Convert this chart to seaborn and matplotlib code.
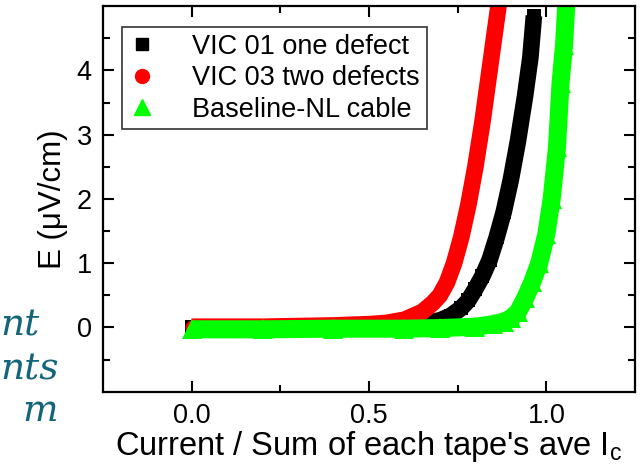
import numpy as np
import pandas as pd
import matplotlib
matplotlib.use("Agg")
import matplotlib.pyplot as plt
import seaborn as sns
from matplotlib.ticker import FixedLocator
from matplotlib.lines import Line2D

# ---- data ----
black_x = [0.0, 0.2, 0.4, 0.5, 0.6, 0.65, 0.7, 0.73, 0.76, 0.78, 0.80, 0.82, 0.84, 0.86, 0.88, 0.90, 0.92, 0.94, 0.955, 0.965]
black_y = [0.0, 0.0, 0.01, 0.02, 0.04, 0.06, 0.11, 0.18, 0.3, 0.42, 0.6, 0.8, 1.05, 1.4, 1.8, 2.3, 2.9, 3.6, 4.2, 4.85]

red_x = [0.0, 0.1, 0.2, 0.3, 0.4, 0.5, 0.55, 0.6, 0.65, 0.68, 0.70, 0.72, 0.74, 0.76, 0.78, 0.80, 0.82, 0.84, 0.86, 0.87]
red_y = [0.01, 0.01, 0.01, 0.02, 0.03, 0.05, 0.07, 0.12, 0.24, 0.38, 0.5, 0.7, 1.0, 1.4, 1.9, 2.5, 3.2, 4.0, 4.8, 5.2]

green_x = [0.0, 0.2, 0.4, 0.6, 0.7, 0.8, 0.85, 0.88, 0.9, 0.92, 0.94, 0.96, 0.98, 1.0, 1.015, 1.03, 1.04, 1.05, 1.058]
green_y = [-0.03, -0.03, -0.02, -0.02, -0.01, 0.01, 0.05, 0.09, 0.14, 0.24, 0.45, 0.7, 1.0, 1.45, 2.0, 2.8, 3.8, 4.4, 5.2]

labels = ["VIC 01 one defect", "VIC 03 two defects", "Baseline-NL cable"]
colors = ["#000000", "#ff0000", "#00ff00"]
markers = ["s", "o", "^"]
x_ticks = [0.0, 0.5, 1.0]
x_tick_labels = ["0.0", "0.5", "1.0"]
y_ticks = [0, 1, 2, 3, 4]

series = [(black_x, black_y), (red_x, red_y), (green_x, green_y)]

sns.set_style("ticks")
plt.rcParams["font.family"] = ["Liberation Sans", "DejaVu Sans"]
plt.rcParams["text.color"] = "black"
plt.rcParams["axes.labelcolor"] = "black"
plt.rcParams["xtick.color"] = "black"
plt.rcParams["ytick.color"] = "black"

fig = plt.figure(figsize=(6.43, 4.73), dpi=100)
ax = fig.add_axes([0.160, 0.172, 0.8276, 0.815])

lws = [12, 12, 13]
msz = [10, 10, 14]
for (xs, ys), lab, c, m, lw, ms in zip(series, labels, colors, markers, lws, msz):
    df = pd.DataFrame({"x": xs, "y": ys})
    sns.lineplot(data=df, x="x", y="y", color=c, linewidth=lw, ax=ax,
                 legend=False, sort=False, solid_capstyle="butt")
    sns.lineplot(data=df, x="x", y="y", color=c, linewidth=0, marker=m,
                 markersize=ms, markeredgewidth=0, ax=ax, legend=False, sort=False)

ax.set_xlim(-0.25, 1.25)
ax.set_ylim(-1, 5)
ax.xaxis.set_major_locator(FixedLocator(x_ticks))
ax.xaxis.set_minor_locator(FixedLocator([0.25, 0.75]))
ax.yaxis.set_major_locator(FixedLocator(y_ticks))
ax.yaxis.set_minor_locator(FixedLocator([-0.5, 0.5, 1.5, 2.5, 3.5, 4.5]))
ax.set_xticklabels(x_tick_labels)
ax.set_yticklabels([str(v) for v in y_ticks])
ax.tick_params(which="both", direction="in", top=True, right=True, width=1.5, colors="black")
ax.tick_params(which="major", length=8, labelsize=19.5, pad=8)
ax.tick_params(which="minor", length=5)
for s in ax.spines.values():
    s.set_linewidth(1.6)
    s.set_color("black")

ax.set_xlabel("Current / Sum of each tape's ave I$_\\mathregular{c}$", fontsize=23.5, labelpad=0)
ax.set_ylabel("E (\u03bcV/cm)", fontsize=22.5, labelpad=6)

handles = [Line2D([], [], linestyle="none", marker=m, color=c, markersize=ms_)
           for m, c, ms_ in zip(markers, colors, [8, 10, 11])]
leg = ax.legend(handles, labels, loc="upper left", bbox_to_anchor=(0.036, 0.946),
                fontsize=19.5, frameon=True, fancybox=False, edgecolor="black",
                borderaxespad=0, handlelength=1.0, handletextpad=1.35,
                labelspacing=0.2, borderpad=0.25)
leg.get_frame().set_linewidth(1.2)
for t in leg.get_texts():
    t.set_color("black")

# partial slide text visible at the left edge
tcol = "#15657a"
fig.text(0 / 643, 1 - 325 / 473, "nt", color=tcol, fontsize=27, style="italic",
         family="DejaVu Serif", ha="left", va="center")
fig.text(0 / 643, 1 - 369 / 473, "nts", color=tcol, fontsize=27, style="italic",
         family="DejaVu Serif", ha="left", va="center")
fig.text(22 / 643, 1 - 411 / 473, "m", color=tcol, fontsize=27, style="italic",
         family="DejaVu Serif", ha="left", va="center")

fig.savefig("out.png", dpi=100)
